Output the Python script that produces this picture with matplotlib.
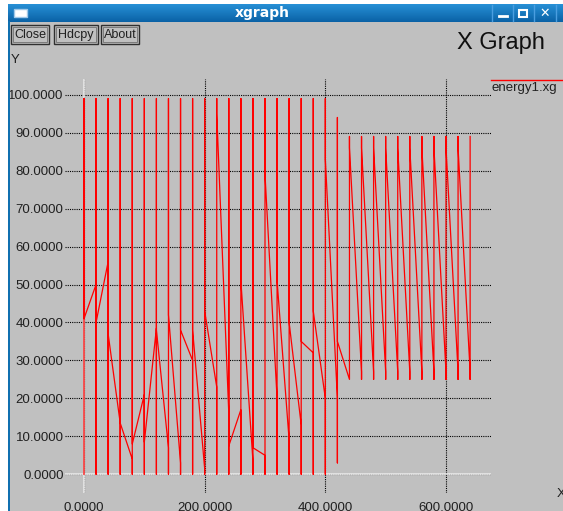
import numpy as np
import matplotlib.pyplot as plt
from matplotlib.colors import LinearSegmentedColormap
from matplotlib.patches import Rectangle
from matplotlib.lines import Line2D

# sample times (every 20 units) and the sawtooth values
times = [0, 20, 40, 60, 80, 100, 120, 140, 160, 180, 200, 220, 240, 260, 280,
         300, 320, 340, 360, 380, 400, 420, 440, 460, 480, 500, 520, 540, 560,
         580, 600, 620, 640]
tops = [99] * 21 + [94] + [89] * 11
lows = [0] * 21 + [3] + [25] * 11
# value where each falling segment starts (at times[k]) and ends (at times[k+1])
seg_start = [41, 40, 37, 13.5, 8, 8.5, 38, 42, 38, 38, 43, 95, 7.5, 51, 7,
             79, 51, 40, 35, 43, 83, 35, 86, 86, 86, 86, 86, 86, 86, 86, 86, 86]
seg_end = [50, 56, 13.5, 4, 21, 38.5, 7, 3, 30, 1.5, 23, 16, 17, 3.5, 5,
           20, 9, 13, 32, 20, 20, 25, 27, 27, 27, 27, 27, 27, 27, 27, 27, 27]

yticks = np.arange(0, 101, 10)
xticks = [0, 200, 400, 600]

W, H = 563, 511
bg = '#c0c0c0'
font = 'Liberation Sans'


def fx(px):
    return px / W


def fy(py):
    return 1 - py / H


# build the polyline the way xgraph connects consecutive points
xs, ys = [], []
for k, t in enumerate(times):
    xs += [t, t]
    ys += [lows[k], tops[k]]
    if k < len(seg_start):
        xs += [t, times[k + 1], times[k + 1]]
        ys += [seg_start[k], seg_end[k], lows[k + 1]]

fig = plt.figure(figsize=(W / 100, H / 100), dpi=100, facecolor='white')

# window background
fig.patches.append(Rectangle((fx(8), 0), 1 - fx(8), fy(21), transform=fig.transFigure,
                             facecolor=bg, edgecolor='none', zorder=-2))
fig.patches.append(Rectangle((fx(8), 0), fx(2), fy(21), transform=fig.transFigure,
                             facecolor='#1070b0', edgecolor='none', zorder=1))

# title bar with gradient
tb = fig.add_axes([fx(8), fy(22), 1 - fx(8), fy(4) - fy(22)])
grad = np.linspace(0, 1, 50).reshape(-1, 1)
tb.imshow(grad, aspect='auto', cmap=LinearSegmentedColormap.from_list(
    'tb', ['#2790d6', '#0a62a6']), extent=[0, 1, 0, 1], origin='upper')
tb.set_axis_off()
fig.text(fx(262), fy(13), 'xgraph', color='white', fontsize=10, fontweight='bold',
         family='DejaVu Sans', ha='center', va='center')
fig.patches.append(Rectangle((fx(14), fy(17)), fx(13), 8 / H, transform=fig.transFigure,
                             facecolor='white', edgecolor='#a0c8e8', zorder=3))
for sx in [492, 513, 534, 556]:
    fig.add_artist(Line2D([fx(sx), fx(sx)], [fy(5), fy(21)], color='#4a9ee0', lw=1))
fig.add_artist(Line2D([fx(499), fx(507)], [fy(16), fy(16)], color='white', lw=2))
fig.patches.append(Rectangle((fx(519), fy(17)), 8 / W, 7 / H, transform=fig.transFigure,
                             facecolor='none', edgecolor='white', lw=1.5, zorder=3))
fig.text(fx(545), fy(13), '\u2715', color='white', fontsize=9, fontweight='bold',
         family='DejaVu Sans', ha='center', va='center')

# buttons
for label, x0, x1 in [('Close', 11, 49), ('Hdcpy', 54, 98), ('About', 101, 139)]:
    fig.patches.append(Rectangle((fx(x0), fy(44)), (x1 - x0) / W, 19 / H, transform=fig.transFigure,
                                 facecolor=bg, edgecolor='#303030', lw=1, zorder=3))
    fig.patches.append(Rectangle((fx(x0 + 2), fy(42)), (x1 - x0 - 4) / W, 15 / H,
                                 transform=fig.transFigure, facecolor='none',
                                 edgecolor='#707070', lw=0.6, zorder=3))
    fig.text(fx((x0 + x1) / 2), fy(35), label, fontsize=9, family=font,
             ha='center', va='center', color='#202020')

fig.text(fx(457), fy(43), 'X Graph', fontsize=17, family=font, ha='left', va='center',
         color='#101010')
fig.text(fx(11), fy(60), 'Y', fontsize=9.5, family=font, ha='left', va='center', color='#202020')
fig.text(fx(557), fy(494), 'X', fontsize=9.5, family=font, ha='left', va='center', color='#202020')

# legend
fig.add_artist(Line2D([fx(491), 1], [fy(80), fy(80)], color='red', lw=1))
fig.text(fx(492), fy(88), 'energy1.xg', fontsize=9.5, family=font, ha='left', va='center',
         color='#202020')

# plot area
ax = fig.add_axes([fx(65), fy(492.7), fx(490.7) - fx(65), fy(79.3) - fy(492.7)])
ax.set_facecolor(bg)
ax.set_xlim(-31.5, 674.1)
ax.set_ylim(-4.85, 104.06)
for s in ax.spines.values():
    s.set_visible(False)
ax.set_xticks(xticks)
ax.set_yticks(yticks)
ax.xaxis.set_major_formatter('{x:.4f}')
ax.yaxis.set_major_formatter('{x:.4f}')
ax.tick_params(length=0, labelsize=9.5, labelcolor='#202020')
ax.tick_params(axis='y', pad=1)
ax.tick_params(axis='x', pad=7)
for lab in ax.get_xticklabels() + ax.get_yticklabels():
    lab.set_family(font)
ax.grid(True, color='black', linestyle=(0, (1, 1)), linewidth=0.8, zorder=0)
ax.set_axisbelow(True)
ax.axhline(0, color='#e8e8e8', lw=1.2, zorder=1)
ax.axvline(0, color='#e8e8e8', lw=1.2, zorder=1)

ax.plot(xs, ys, color='red', lw=0.9, zorder=2)

fig.savefig('out.png', dpi=100, facecolor='white')
